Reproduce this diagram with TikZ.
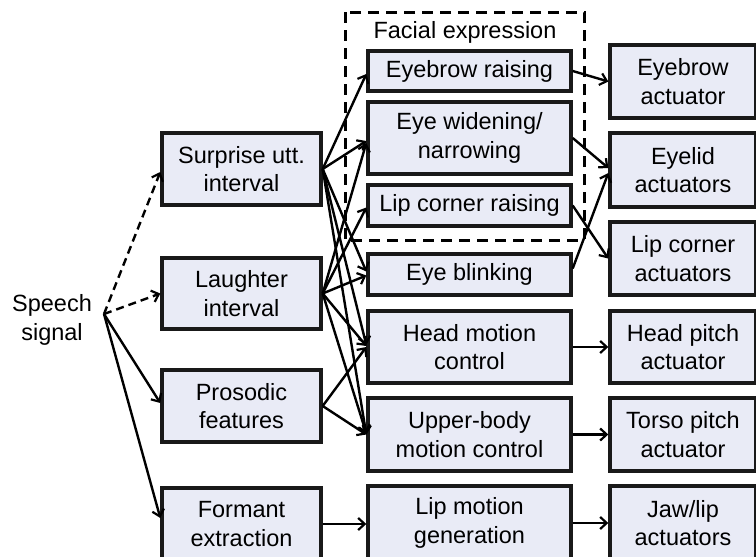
\documentclass[tikz,border=0pt]{standalone}
\usepackage{fontspec}
\setmainfont{Liberation Sans}
\usetikzlibrary{arrows.meta,calc}
\definecolor{boxfill}{RGB}{233,235,246}
\begin{document}
\begin{tikzpicture}[x=1pt,y=-1pt,
  box/.style={draw=black!90,fill=boxfill,line width=3.4pt,rectangle,inner sep=0pt,align=center,
    font=\fontsize{23.5}{28.5}\selectfont},
  lbl/.style={inner sep=0pt,align=center,font=\fontsize{23.5}{28.5}\selectfont},
  conn/.style={line width=2.4pt,-{Straight Barb[length=6.5pt,width=12pt,line width=2.2pt]}},
  dconn/.style={conn,dash pattern=on 8pt off 5pt},
  frame/.style={line width=3pt,dash pattern=on 11pt off 7pt}]
\useasboundingbox (0,0) rectangle (756,557);
\clip (0,0) rectangle (756,557);
% dashed group frame
\draw[frame] (345,12) rectangle (584,240);
\node[lbl] (facial) at (465,32) {Facial expression};
% speech signal
\node[lbl] (speech) at (52,320) {Speech\\signal};
\coordinate (ss) at (104,314);
% column 1
\node[box,minimum width=159pt,minimum height=72pt] (surprise) at (241.5,169) {Surprise utt.\\interval};
\node[box,minimum width=159pt,minimum height=71pt] (laughter) at (241.5,293.5) {Laughter\\interval};
\node[box,minimum width=159pt,minimum height=72pt] (prosodic) at (241.5,406) {Prosodic\\features};
\node[box,minimum width=159pt,minimum height=72pt] (formant) at (241.5,524) {Formant\\extraction};
% column 2
\node[box,minimum width=203pt,minimum height=40pt] (browr) at (469.5,71) {Eyebrow raising};
\node[box,minimum width=203pt,minimum height=72pt] (eyew) at (469.5,138) {Eye widening/\\narrowing};
\node[box,minimum width=203pt,minimum height=41pt] (lipr) at (469.5,205.5) {Lip corner raising};
\node[box,minimum width=203pt,minimum height=41pt] (blink) at (469.5,274.5) {Eye blinking};
\node[box,minimum width=203pt,minimum height=72pt] (head) at (469.5,347) {Head motion\\control};
\node[box,minimum width=203pt,minimum height=73pt] (upper) at (469.5,434.5) {Upper-body\\motion control};
\node[box,minimum width=203pt,minimum height=74pt] (lipm) at (469.5,523) {Lip motion\\generation};
% column 3
\node[box,minimum width=146pt,minimum height=73pt] (browa) at (683,81.5) {Eyebrow\\actuator};
\node[box,minimum width=146pt,minimum height=74pt] (eyelid) at (683,170) {Eyelid\\actuators};
\node[box,minimum width=146pt,minimum height=73pt] (lipa) at (683,258.5) {Lip corner\\actuators};
\node[box,minimum width=146pt,minimum height=72pt] (pitch) at (683,347) {Head pitch\\actuator};
\node[box,minimum width=146pt,minimum height=73pt] (torso) at (683,434.5) {Torso pitch\\actuator};
\node[box,minimum width=146pt,minimum height=74pt] (jaw) at (683,523) {Jaw/lip\\actuators};
% speech signal connectors
\draw[dconn] (ss) -- ([yshift=-3pt]surprise.west);
\draw[dconn] (ss) -- (laughter.west);
\draw[conn] (ss) -- ([yshift=3pt]prosodic.west);
\draw[conn] (ss) -- ([yshift=6pt]formant.west);
% column 1 -> column 2
\draw[conn] (surprise.east) -- ([yshift=-3pt]browr.west);
\draw[conn] (surprise.east) -- ([yshift=-3pt]eyew.west);
\draw[conn] (surprise.east) -- ([yshift=3pt]blink.west);
\draw[conn] (surprise.east) -- ([yshift=2pt]head.west);
\draw[conn] (surprise.east) -- (upper.west);
\draw[conn] (laughter.east) -- ([yshift=-5pt]eyew.west);
\draw[conn] (laughter.east) -- ([yshift=-2pt]lipr.west);
\draw[conn] (laughter.east) -- ([yshift=-1pt]blink.west);
\draw[conn] (laughter.east) -- ([yshift=1pt]head.west);
\draw[conn] (laughter.east) -- ([yshift=1pt]upper.west);
\draw[conn] (prosodic.east) -- (head.west);
\draw[conn] (prosodic.east) -- (upper.west);
\draw[conn] (formant.east) -- (formant.east -| lipm.west);
% column 2 -> column 3
\draw[conn] (browr.east) -- (browa.west);
\draw[conn] (eyew.east) -- ([yshift=2pt]eyelid.west);
\draw[conn] (lipr.east) -- (lipa.west);
\draw[conn] ([yshift=6pt]blink.east) -- ([yshift=-3pt]eyelid.west);
\draw[conn] (head.east) -- (pitch.west);
\draw[conn] (upper.east) -- (torso.west);
\draw[conn] (lipm.east) -- (jaw.west);
\end{tikzpicture}
\end{document}
